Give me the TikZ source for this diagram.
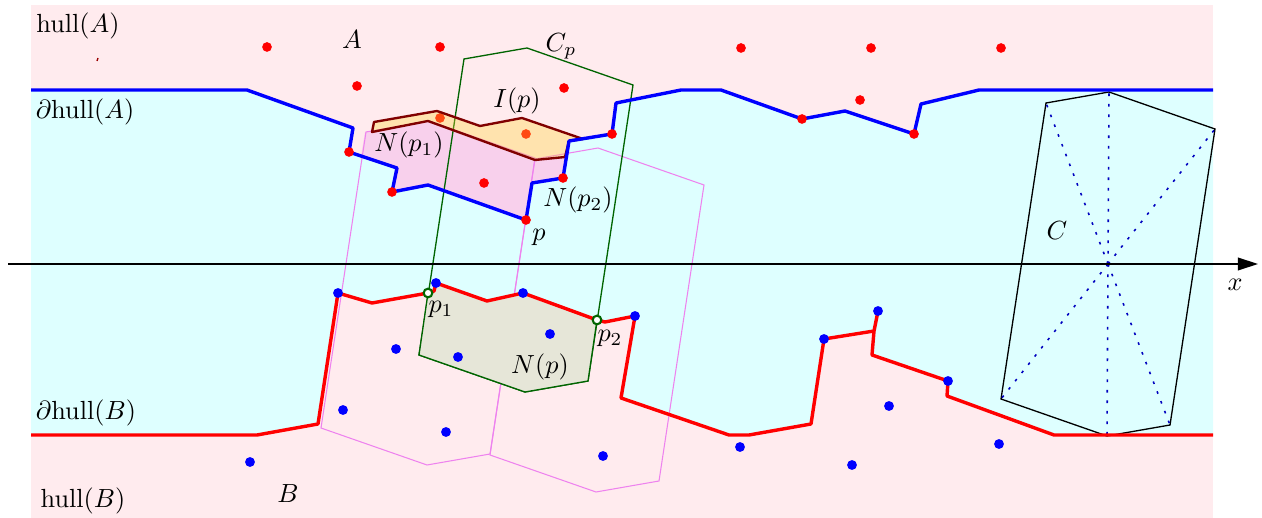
\documentclass[tikz,border=0pt]{standalone}
\definecolor{hullpink}{RGB}{255,235,238}
\definecolor{gapcyan}{RGB}{222,255,255}
\definecolor{nbrfill}{RGB}{248,208,236}
\definecolor{npfill}{RGB}{230,230,216}
\definecolor{ipfill}{RGB}{255,214,57}
\definecolor{ipline}{RGB}{128,0,0}
\definecolor{cellviolet}{RGB}{238,130,238}
\definecolor{cpgreen}{RGB}{0,100,0}
\usepackage{tikz}
\usetikzlibrary{arrows.meta}
\usepackage{amsmath}

\tikzset{
  hexcell/.pic={
    \coordinate (-v1) at (-62,-161);
    \coordinate (-v2) at (1,-172);
    \coordinate (-v3) at (107,-135);
    \coordinate (-v4) at (62,161);
    \coordinate (-v5) at (-1,172);
    \coordinate (-v6) at (-107,135);
    \draw[pic actions] (-v1) -- (-v2) -- (-v3) -- (-v4) -- (-v5) -- (-v6) -- cycle;
  }
}

\begin{document}
\begin{tikzpicture}[
    x=0.0134cm, y=-0.0134cm,
    boundA/.style={blue, line width=1.3pt, line join=round},
    boundB/.style={red, line width=1.3pt, line join=round},
    cellline/.style={draw=cellviolet, line width=0.4pt},
    cpline/.style={draw=cpgreen, line width=0.5pt},
    cline/.style={draw=black, line width=0.5pt},
    cdots/.style={blue!75!black, line width=0.6pt, dash pattern=on 1pt off 3pt},
    axis/.style={-{Triangle[length=0.27cm, width=0.17cm]}, line width=0.6pt},
    ptA/.style={red},
    ptB/.style={blue},
    meet/.style={draw=cpgreen, fill=white, line width=0.8pt}
  ]
    \useasboundingbox (0,0) rectangle (1262,518);
    \coordinate (p) at (526,220);
    \coordinate (p1) at (428,293);
    \coordinate (p2) at (597,320);
    \coordinate (c) at (1108,264);

    % regions
    \fill[hullpink] (31,5) rectangle (1213,518);
    \fill[gapcyan] (31,90) -- (247,90) -- (353,128) -- (349,152) -- (397,168)
      -- (392,192) -- (428,185) -- (p) -- (532,183) -- (563,178) -- (569,141)
      -- (612,134) -- (616,103) -- (681,90) -- (721,90) -- (802,119) -- (845,111)
      -- (914,134) -- (921,104) -- (979,90) -- (1213,90) -- (1213,435)
      -- (1054,435) -- (947,396) -- (948,381) -- (872,355) -- (874,331)
      -- (824,339) -- (811,424) -- (749,435) -- (729,435) -- (621,398)
      -- (635,316) -- (605,322) -- (p2) -- (523,293) -- (487,301) -- (436,283)
      -- (434,291) -- (p1) -- (372,303) -- (338,293) -- (318,424) -- (257,435)
      -- (31,435) -- cycle;
    \fill[nbrfill] (365,132) -- (428,121) -- (535,160) -- (565,157) -- (563,178)
      -- (532,183) -- (p) -- (428,185) -- (392,192) -- (397,168) -- (361,156) -- cycle;

    % cells
    \pic[cellline] (n1) at (p1) {hexcell};
    \pic[cellline] (n2) at (p2) {hexcell};
    \pic[cpline] (cp) at (p) {hexcell};
    \fill[npfill] (p1) -- (434,291) -- (436,283) -- (487,301) -- (523,293) -- (p2)
      -- (cp-v4) -- (cp-v5) -- (cp-v6) -- cycle;
    \draw[cpline] (p1) -- (cp-v6) -- (cp-v5) -- (cp-v4) -- (p2);
    \pic[cline] (C) at (c) {hexcell};
    \foreach \v in {1,...,6}
      \draw[cdots] (c) -- (C-v\v);

    \draw[axis] (8,264) coordinate (xl) -- (1258,264) coordinate (xr);

    % points of A
    \foreach \x/\y in {267/47, 440/47, 357/86, 564/88, 741/48, 871/48, 1001/48,
                       860/100, 440/118, 526/134, 484/183}
      \fill[ptA] (\x,\y) circle[radius=0.065cm];
    \draw[ipline, line width=0.9pt, fill=ipfill, fill opacity=0.35, line join=round]
      (374,122) -- (437,111) -- (480,126) -- (522,118) -- (583,139) -- (569,141)
      -- (565,157) -- (535,160) -- (428,121) -- (372,132) -- cycle;
    \draw[ipline!80!red, line width=0.5pt] (97,61) -- (98,58);

    % boundaries
    \draw[boundA] (31,90) -- (247,90) -- (353,128) -- (349,152) -- (397,168)
      -- (392,192) -- (428,185) -- (p) -- (532,183) -- (563,178) -- (569,141)
      -- (612,134) -- (616,103) -- (681,90) -- (721,90) -- (802,119) -- (845,111)
      -- (914,134) -- (921,104) -- (979,90) -- (1213,90);
    \draw[boundB] (31,435) -- (257,435) -- (318,424) -- (338,293) -- (372,303)
      -- (p1) -- (434,291) -- (436,283) -- (487,301) -- (523,293) -- (p2)
      -- (605,322) -- (635,316) -- (621,398) -- (729,435) -- (749,435)
      -- (811,424) -- (824,339) -- (874,331) -- (878,311) -- (874,331)
      -- (872,355) -- (948,381) -- (947,396) -- (1054,435) -- (1213,435);

    \foreach \x/\y in {349/152, 392/192, 526/220, 563/178, 612/134, 802/119, 914/134}
      \fill[ptA] (\x,\y) circle[radius=0.065cm];
    % points of B
    \foreach \x/\y in {338/293, 436/283, 523/293, 635/316, 824/339, 878/311, 948/381,
                       396/349, 458/357, 550/334, 343/410, 446/432, 250/462,
                       603/456, 740/447, 852/465, 889/406, 999/444}
      \fill[ptB] (\x,\y) circle[radius=0.066cm];
    \draw[meet] (p1) circle[radius=0.058cm];
    \draw[meet] (p2) circle[radius=0.058cm];

    % labels
    \node (hullA) at (78,26) {$\mathrm{hull}(A)$};
    \node (dhullA) at (85,112) {$\partial\mathrm{hull}(A)$};
    \node (labA) at (352,40) {$A$};
    \node (labCp) at (561,46) {$C_p$};
    \node (labIp) at (517,101) {$I(p)$};
    \node (labNpa) at (409,145) {$N(p_1)$};
    \node (labNpb) at (578,200) {$N(p_2)$};
    \node (labp) at (539,237) {$p$};
    \node (labC) at (1057,231) {$C$};
    \node (labx) at (1235,285) {$x$};
    \node (labpa) at (441,309) {$p_1$};
    \node (labpb) at (610,338) {$p_2$};
    \node (labNp) at (540,367) {$N(p)$};
    \node (dhullB) at (86,413) {$\partial\mathrm{hull}(B)$};
    \node (hullB) at (83,501) {$\mathrm{hull}(B)$};
    \node (labB) at (288,494) {$B$};
  \end{tikzpicture}
\end{document}
